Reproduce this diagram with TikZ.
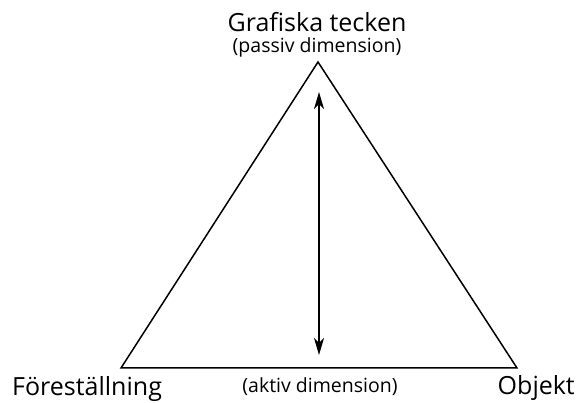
\documentclass[tikz,border=0pt]{standalone}
\usepackage{fontspec}
\setmainfont{Open Sans}
\usetikzlibrary{arrows.meta}
\begin{document}
\begin{tikzpicture}[x=1pt,y=1pt,
  edge/.style={line width=1.5pt},
  biarrow/.style={line width=1.5pt,{Stealth[length=17pt,width=10pt,inset=5pt]}-{Stealth[length=17pt,width=10pt,inset=5pt]}},
  bigtext/.style={font=\fontsize{25}{27}\selectfont,anchor=base,inner sep=0pt},
  smalltext/.style={font=\fontsize{19.5}{21}\selectfont,anchor=base,inner sep=0pt}]
\useasboundingbox (0,0) rectangle (577,403);
\coordinate (A) at (318,341);
\coordinate (L) at (121,35);
\coordinate (R) at (517,35);
\coordinate (T) at (319,311);
\coordinate (B) at (319,48);
\draw[edge,line join=miter] (A) -- (L) -- (R) -- cycle;
\draw[biarrow] (T) -- (B);
\node[bigtext] (gt) at (317,371) {Grafiska tecken};
\node[smalltext] (pd) at (317,350) {(passiv dimension)};
\node[bigtext,anchor=base west] (fs) at (12,7) {Föreställning};
\node[smalltext] (ad) at (320,10) {(aktiv dimension)};
\node[bigtext,anchor=base east] (ob) at (575,8) {Objekt};
\end{tikzpicture}
\end{document}
